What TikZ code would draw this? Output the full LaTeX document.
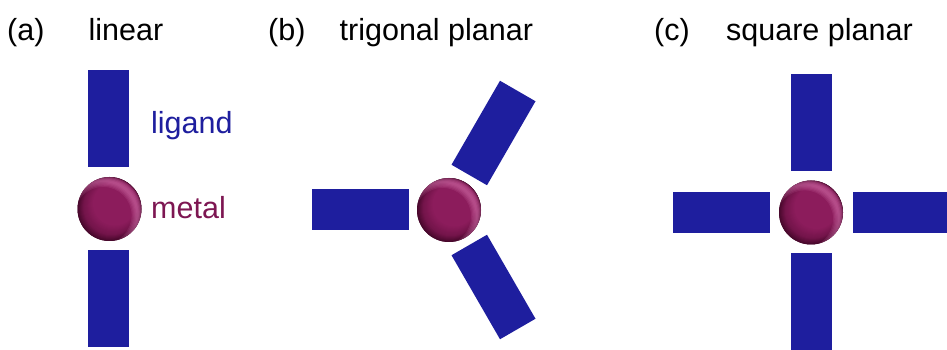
\documentclass[tikz,border=0pt]{standalone}
\usepackage{fontspec}
\setmainfont{Liberation Sans}

\definecolor{ligandblue}{RGB}{30,30,158}
\definecolor{metalbase}{RGB}{140,28,92}
\definecolor{metalmid}{RGB}{115,20,74}
\definecolor{metaldark}{RGB}{72,8,44}
\definecolor{metalhl}{RGB}{212,112,172}
\definecolor{metaltext}{RGB}{125,22,82}

\tikzset{
  ligbar/.style={rectangle, fill=ligandblue, inner sep=0pt,
    minimum width=97pt, minimum height=41pt},
  sphere/.style={circle, inner sep=0pt, minimum size=64pt, fill=metaldark},
  title/.style={anchor=base west, inner sep=0pt,
    font=\fontsize{30.5}{36}\selectfont},
}

% metal atom of radius 32pt: stacked discs that brighten towards the
% upper right, then a soft sheen ring clipped to the ball
\newcommand\metalatom[2]{%
  \node[sphere] (#1) at (#2) {};
  \foreach \s in {50,49,...,34}{%
    \pgfmathsetmacro\o{(1-\s/50)*0.5*32}%
    \pgfmathsetmacro\rr{\s/50*32}%
    \ifnum\s>43
      \pgfmathtruncatemacro\pa{(\s-44)*100/6}%
      \colorlet{layercol}{metaldark!\pa!metalmid}%
    \else
      \pgfmathtruncatemacro\pa{(\s-34)*100/10}%
      \colorlet{layercol}{metalmid!\pa!metalbase}%
    \fi
    \fill[layercol] (#1.center) ++(\o,\o) circle (\rr);
  }
  \begin{scope}
    \clip (#1.center) circle (32);
    \foreach \w in {6,4.8,3.6,2.4,1.2}{%
      \fill[metalhl, opacity=0.16, even odd rule]
        (#1.center) ++(-6.4,-6.4) circle (34.5+\w) circle (34.5-\w);
    }
  \end{scope}}

\begin{document}
\begin{tikzpicture}[x=1pt, y=1pt]
\useasboundingbox (0,0) rectangle (947,350);

% (a) linear
\node[title] (ta) at (7,309) {(a)};
\node[title] (na) at (88.5,309) {linear};
\node[ligbar, rotate=90] (la1) at (108.5,231) {};
\node[ligbar, rotate=90] (la2) at (108.5,51.5) {};
\metalatom{ma}{109.5,141}
\node[title, text=ligandblue] (lig) at (151,216) {ligand};
\node[title, text=metaltext] (met) at (151,131) {metal};

% (b) trigonal planar
\node[title] (tb) at (268,309) {(b)};
\node[title] (nb) at (339.5,309) {trigonal planar};
\node[ligbar] (lb1) at (360,140) {};
\node[ligbar, rotate=60] (lb2) at (493.5,217) {};
\node[ligbar, rotate=-60] (lb3) at (493.5,63) {};
\metalatom{mb}{449,140}

% (c) square planar
\node[title] (tc) at (654,309) {(c)};
\node[title] (nc) at (726,309) {square planar};
\node[ligbar, rotate=90] (lc1) at (811,227.5) {};
\node[ligbar, rotate=90] (lc2) at (811,48) {};
\node[ligbar] (lc3) at (721,137.5) {};
\node[ligbar] (lc4) at (901,137.5) {};
\metalatom{mc}{811,137.5}
\end{tikzpicture}
\end{document}
